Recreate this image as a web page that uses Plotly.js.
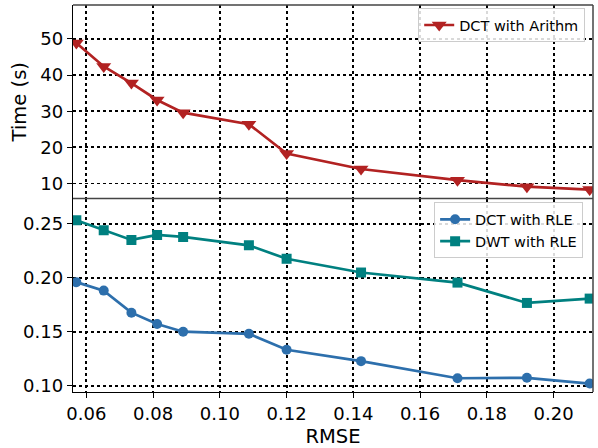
<!DOCTYPE html>
<html>
<head>
<meta charset="utf-8">
<script src="https://cdn.plot.ly/plotly-3.0.1.min.js"></script>
<style>html,body{margin:0;padding:0;background:#fff;}#chart{width:598px;height:448px;}</style>
</head>
<body>
<div id="chart"></div>
<script>
// RMSE values (shared x)
const rmse = [0.0570, 0.0652, 0.0735, 0.0812, 0.0890, 0.1087, 0.1200, 0.1423, 0.1712, 0.1920, 0.2108];
// Top panel: time (s)
const timeDctArithm = [48.9, 42.4, 37.8, 33.1, 29.6, 26.4, 18.3, 14.0, 10.9, 9.1, 8.3];
// Bottom panel
const dctRle = [0.1959, 0.1881, 0.1677, 0.1572, 0.1501, 0.1482, 0.1334, 0.1229, 0.1071, 0.1075, 0.1022];
const dwtRle = [0.2531, 0.2438, 0.2349, 0.2395, 0.2377, 0.2299, 0.2175, 0.2048, 0.1955, 0.1767, 0.1807];
const topTicks = [10, 20, 30, 40, 50];
const bottomTicks = [0.10, 0.15, 0.20, 0.25];
const xTicks = [0.06, 0.08, 0.10, 0.12, 0.14, 0.16, 0.18, 0.20];

const FONT = 'DejaVu Sans, sans-serif';
const traces = [
  {x: rmse, y: timeDctArithm, xaxis: 'x2', yaxis: 'y2', name: 'DCT with Arithm', mode: 'lines+markers',
   line: {color: '#b22222', width: 2.7}, marker: {symbol: 'triangle-down', size: 13, color: '#b22222'}, legend: 'legend'},
  {x: rmse, y: dctRle, xaxis: 'x', yaxis: 'y', name: 'DCT with RLE', mode: 'lines+markers',
   line: {color: '#2d6fac', width: 2.7}, marker: {symbol: 'circle', size: 10, color: '#2d6fac'}, legend: 'legend2'},
  {x: rmse, y: dwtRle, xaxis: 'x', yaxis: 'y', name: 'DWT with RLE', mode: 'lines+markers',
   line: {color: '#008080', width: 2.7}, marker: {symbol: 'square', size: 10, color: '#008080'}, legend: 'legend2'}
];

const grid = {showgrid: true, gridcolor: '#000', griddash: 'dot', gridwidth: 1.8, zeroline: false};
const layout = {
  width: 598, height: 448,
  margin: {l: 73, r: 5, t: 5, b: 56},
  paper_bgcolor: '#fff', plot_bgcolor: '#fff',
  font: {family: FONT, size: 18, color: '#000'},
  showlegend: true,
  xaxis: Object.assign({}, grid, {domain: [0, 1], anchor: 'y', range: [0.056, 0.2118], tickvals: xTicks,
    ticktext: xTicks.map(v => v.toFixed(2)), ticks: 'outside', ticklen: 5, tickwidth: 1, tickcolor: '#000',
    showline: true, linecolor: '#000', linewidth: 1.2, mirror: false,
    title: {text: 'RMSE', font: {size: 19.5, family: FONT}, standoff: 6}}),
  xaxis2: Object.assign({}, grid, {domain: [0, 1], anchor: 'y2', matches: 'x', range: [0.056, 0.2118], tickvals: xTicks,
    showticklabels: false, ticks: '', showline: false}),
  yaxis: Object.assign({}, grid, {domain: [0, 0.5], anchor: 'x', range: [0.0944, 0.2732], tickvals: bottomTicks,
    ticktext: bottomTicks.map(v => v.toFixed(2)), ticks: 'outside', ticklen: 5, tickwidth: 1, tickcolor: '#000',
    showline: true, linecolor: '#000', linewidth: 1.2, mirror: false}),
  yaxis2: Object.assign({}, grid, {domain: [0.5, 1], anchor: 'x2', range: [5.83, 59.4], tickvals: topTicks,
    ticktext: topTicks.map(String), ticks: 'outside', ticklen: 5, tickwidth: 1, tickcolor: '#000',
    showline: true, linecolor: '#000', linewidth: 1.2, mirror: false,
    title: {text: 'Time (s)', font: {size: 19.5, family: FONT}, standoff: 8}}),
  legend: {x: 0.985, y: 0.992, xanchor: 'right', yanchor: 'top', bgcolor: 'rgba(255,255,255,0.85)',
    bordercolor: '#cccccc', borderwidth: 1, font: {size: 14.5, family: FONT}, tracegroupgap: 2},
  legend2: {x: 0.981, y: 0.49, xanchor: 'right', yanchor: 'top', bgcolor: 'rgba(255,255,255,0.85)',
    bordercolor: '#cccccc', borderwidth: 1, font: {size: 14.5, family: FONT}, tracegroupgap: 2},
  shapes: [
    {type: 'line', xref: 'paper', yref: 'paper', x0: 0, x1: 1, y0: 1, y1: 1, line: {color: '#444', width: 1.5}},
    {type: 'line', xref: 'paper', yref: 'paper', x0: 1, x1: 1, y0: 0, y1: 1, line: {color: '#444', width: 1.5}},
    {type: 'line', xref: 'paper', yref: 'paper', x0: 0, x1: 1, y0: 0.5, y1: 0.5, line: {color: '#444', width: 1.5}}
  ]
};
Plotly.newPlot('chart', traces, layout, {displayModeBar: false, staticPlot: true});
</script>
</body>
</html>
